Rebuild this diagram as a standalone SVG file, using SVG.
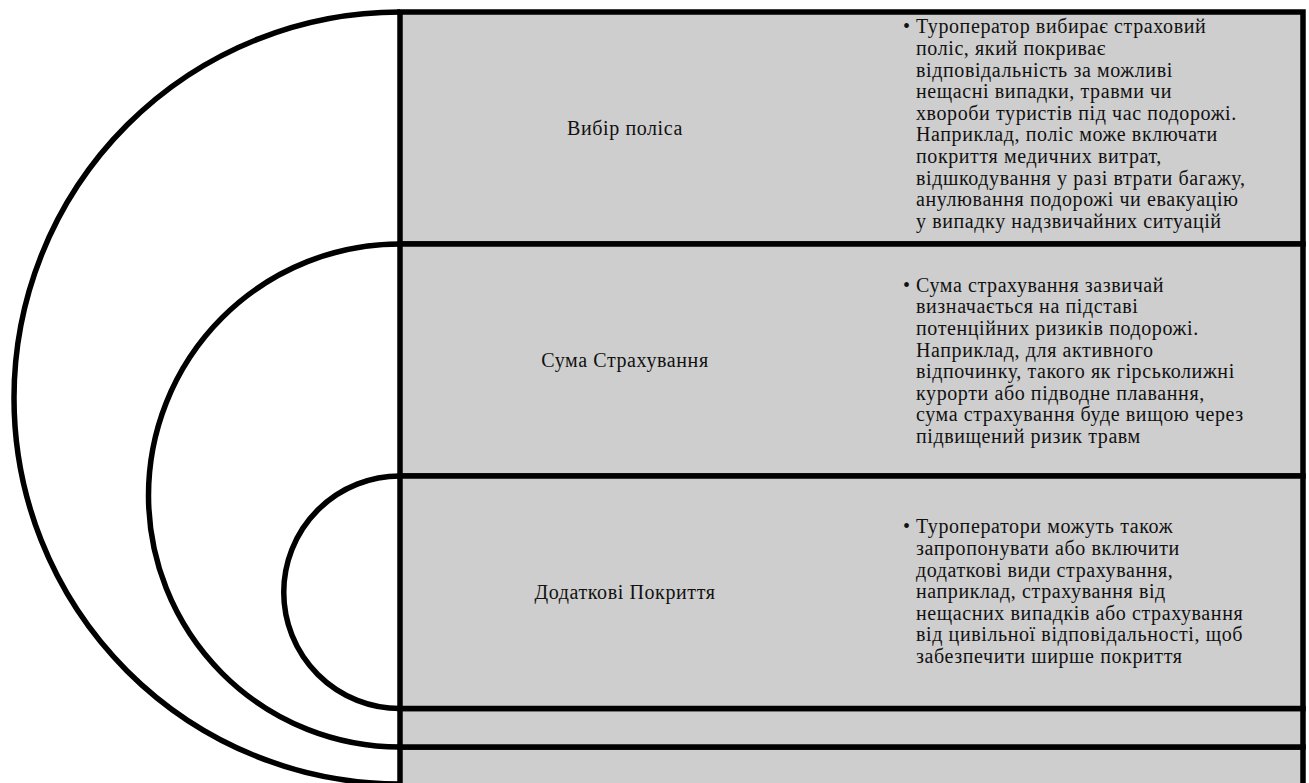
<svg xmlns="http://www.w3.org/2000/svg" width="1309" height="783" viewBox="0 0 1309 783">
<style>
.box{fill:#cecece;stroke:#000;stroke-width:5.5}
.arc{fill:none;stroke:#000;stroke-width:5.5}
.lbl{font-family:"Liberation Serif","Times New Roman",serif;font-size:20px;letter-spacing:0.6px;fill:#111;text-anchor:middle}
.txt{font-family:"Liberation Serif","Times New Roman",serif;font-size:20px;letter-spacing:0.6px;fill:#111}
</style>
<rect width="1309" height="783" fill="#fff"/>
<g id="connectors">
<path class="arc" d="M400,12 A386,386 0 0 0 400,784"/>
<path class="arc" d="M400,244 A251.5,251.5 0 0 0 400,747"/>
<path class="arc" d="M400,476 A116.25,116.25 0 0 0 400,708.5"/>
</g>
<g id="row5"><rect class="box" x="400" y="747" width="903" height="80"/></g>
<g id="row4"><rect class="box" x="400" y="708.5" width="903" height="38.5"/></g>
<g id="node1">
<rect class="box" x="400" y="12" width="903" height="232"/>
<text class="lbl" x="625" y="135">Вибір поліса</text>
<text class="txt" x="903" y="33.3">•</text>
<text class="txt" y="33.3"><tspan x="916">Туроператор вибирає страховий</tspan><tspan x="916" dy="21.6">поліс, який покриває</tspan><tspan x="916" dy="21.6">відповідальність за можливі</tspan><tspan x="916" dy="21.6">нещасні випадки, травми чи</tspan><tspan x="916" dy="21.6">хвороби туристів під час подорожі.</tspan><tspan x="916" dy="21.6">Наприклад, поліс може включати</tspan><tspan x="916" dy="21.6">покриття медичних витрат,</tspan><tspan x="916" dy="21.6">відшкодування у разі втрати багажу,</tspan><tspan x="916" dy="21.6">анулювання подорожі чи евакуацію</tspan><tspan x="916" dy="21.6">у випадку надзвичайних ситуацій</tspan></text>
</g>
<g id="node2">
<rect class="box" x="400" y="244" width="903" height="232"/>
<text class="lbl" x="625" y="367">Сума Страхування</text>
<text class="txt" x="903" y="291.7">•</text>
<text class="txt" y="291.7"><tspan x="916">Сума страхування зазвичай</tspan><tspan x="916" dy="21.6">визначається на підставі</tspan><tspan x="916" dy="21.6">потенційних ризиків подорожі.</tspan><tspan x="916" dy="21.6">Наприклад, для активного</tspan><tspan x="916" dy="21.6">відпочинку, такого як гірськолижні</tspan><tspan x="916" dy="21.6">курорти або підводне плавання,</tspan><tspan x="916" dy="21.6">сума страхування буде вищою через</tspan><tspan x="916" dy="21.6">підвищений ризик травм</tspan></text>
</g>
<g id="node3">
<rect class="box" x="400" y="476" width="903" height="232.5"/>
<text class="lbl" x="625" y="599">Додаткові Покриття</text>
<text class="txt" x="903" y="533.3">•</text>
<text class="txt" y="533.3"><tspan x="916">Туроператори можуть також</tspan><tspan x="916" dy="21.6">запропонувати або включити</tspan><tspan x="916" dy="21.6">додаткові види страхування,</tspan><tspan x="916" dy="21.6">наприклад, страхування від</tspan><tspan x="916" dy="21.6">нещасних випадків або страхування</tspan><tspan x="916" dy="21.6">від цивільної відповідальності, щоб</tspan><tspan x="916" dy="21.6">забезпечити ширше покриття</tspan></text>
</g>
</svg>
